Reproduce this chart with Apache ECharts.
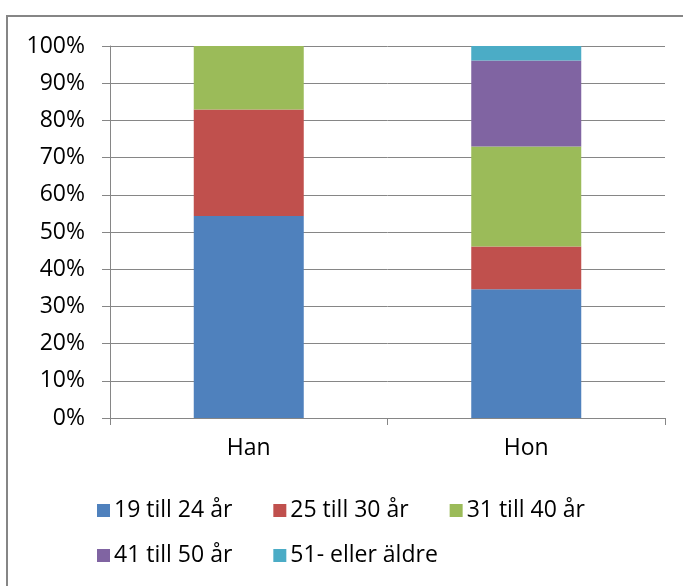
<!DOCTYPE html>
<html>
<head>
<meta charset="utf-8">
<script src="https://cdn.jsdelivr.net/npm/echarts@6/dist/echarts.min.js"></script>
<style>
  html, body { margin: 0; padding: 0; background: #fff; }
  #chart { width: 683px; height: 586px; }
</style>
</head>
<body>
<div id="chart"></div>
<script>
const categories = ['Han', 'Hon'];
const seriesNames = ['19 till 24 år', '25 till 30 år', '31 till 40 år', '41 till 50 år', '51- eller äldre'];
const s19to24 = [54.3, 34.6];
const s25to30 = [28.6, 11.5];
const s31to40 = [17.1, 26.9];
const s41to50 = [0, 23.1];
const s51plus = [0, 3.9];
const colors = ['#4F81BD', '#C0504D', '#9BBB59', '#8064A2', '#4BACC6'];
const yTicks = [0, 10, 20, 30, 40, 50, 60, 70, 80, 90, 100];

const values = [s19to24, s25to30, s31to40, s41to50, s51plus];
const FONT = 'Open Sans';
const chart = echarts.init(document.getElementById('chart'));
chart.setOption({
  animation: false,
  textStyle: { fontFamily: FONT, color: '#000' },
  graphic: [{
    type: 'rect',
    shape: { x: 7, y: 16, width: 700, height: 620 },
    style: { fill: 'none', stroke: '#868686', lineWidth: 2 }
  }],
  grid: { left: 110, right: 18, top: 46, bottom: 168 },
  xAxis: {
    type: 'category',
    data: categories,
    axisLine: { show: true, lineStyle: { color: '#868686', width: 1 } },
    axisTick: { show: true, length: 7, lineStyle: { color: '#868686' } },
    axisLabel: { fontFamily: FONT, fontSize: 23, color: '#000', margin: 19 }
  },
  yAxis: {
    type: 'value',
    min: 0, max: 100, interval: 10,
    axisLine: { show: true, lineStyle: { color: '#868686', width: 1 } },
    axisTick: { show: true, length: 8, lineStyle: { color: '#868686' } },
    splitLine: { show: true, lineStyle: { color: '#868686', width: 1 } },
    axisLabel: {
      fontFamily: FONT, fontSize: 23, color: '#000', margin: 25,
      formatter: function (v) { return yTicks.indexOf(v) >= 0 ? v + '%' : ''; }
    }
  },
  legend: [{
    data: seriesNames.slice(0, 3),
    left: 92, top: 494,
    itemWidth: 13, itemHeight: 13, itemGap: 41,
    icon: 'rect',
    textStyle: { fontFamily: FONT, fontSize: 23, color: '#000', padding: [0, 0, 0, -1] }
  }, {
    data: seriesNames.slice(3),
    left: 92, top: 539,
    itemWidth: 13, itemHeight: 13, itemGap: 41,
    icon: 'rect',
    textStyle: { fontFamily: FONT, fontSize: 23, color: '#000', padding: [0, 0, 0, -1] }
  }],
  series: seriesNames.map(function (name, i) {
    return {
      name: name,
      type: 'bar',
      stack: 'total',
      barWidth: 110,
      data: values[i],
      itemStyle: { color: colors[i] }
    };
  })
});
</script>
</body>
</html>
